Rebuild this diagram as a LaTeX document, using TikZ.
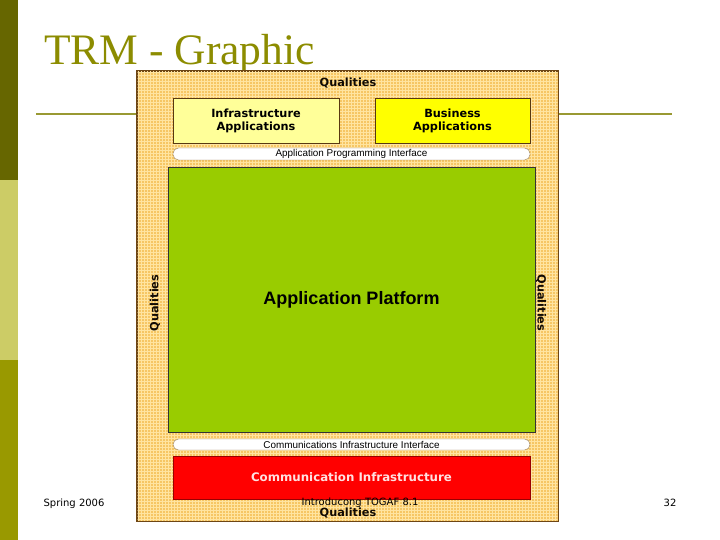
\documentclass[tikz,border=0pt]{standalone}
\usepackage{fontspec}
\setmainfont{Liberation Serif}
\newfontfamily\arialfont{Liberation Sans}
\newfontfamily\verdfont{DejaVu Sans}
\usepackage{tikz}
\usetikzlibrary{positioning, calc}
\definecolor{TRMDark}{RGB}{102,102,0}
\definecolor{TRMLight}{RGB}{204,204,102}
\definecolor{TRMOlive}{RGB}{153,153,0}
\definecolor{TRMTitle}{RGB}{140,140,0}
\definecolor{TRMRule}{RGB}{153,153,51}
\definecolor{TRMTan}{RGB}{246,198,100}
\definecolor{TRMTanLt}{RGB}{255,228,160}
\definecolor{TRMBrown}{RGB}{110,70,20}
\definecolor{TRMPale}{RGB}{255,255,153}
\definecolor{TRMYellow}{RGB}{255,255,0}
\definecolor{TRMGreen}{RGB}{153,204,0}
\definecolor{TRMRed}{RGB}{255,0,0}
\definecolor{TRMPink}{RGB}{255,225,225}

\begin{document}
\begin{tikzpicture}[x=1pt, y=-1pt,
      box/.style={rectangle, draw=TRMBrown!80!black, line width=0.8pt,
                  align=center, font=\verdfont\bfseries\fontsize{11.3}{13}\selectfont},
      pill/.style={rectangle, rounded corners=5.5pt, draw=TRMBrown!70, fill=white,
                   inner sep=0pt, font=\arialfont\fontsize{9.9}{10}\selectfont},
      qual/.style={font=\verdfont\bfseries\fontsize{11.3}{12}\selectfont, text=black!85!TRMBrown},
      foot/.style={font=\verdfont\fontsize{10}{11}\selectfont, anchor=base}
    ]
    \useasboundingbox (0,0) rectangle (720,540);

    % Side bar
    \fill[TRMDark]  (0,0)   rectangle (18,180);
    \fill[TRMLight] (0,180) rectangle (18,360);
    \fill[TRMOlive] (0,360) rectangle (18,540);

    % Title and rule
    \node[anchor=base west, inner sep=0pt, text=TRMTitle,
          font=\fontsize{43.5}{48}\selectfont] (title) at (44,65) {TRM - Graphic};
    \coordinate (ruleL) at (36,114);
    \coordinate (ruleR) at (672,114);
    \draw[TRMRule, line width=2.6pt] (ruleL) -- (ruleR);

    % Textured frame
    \node[rectangle, fill=TRMTan, draw=TRMBrown, line width=0.9pt,
          minimum width=421pt, minimum height=450pt, inner sep=0pt]
          (frame) at (347.5,296) {};
    \begin{scope}
      \clip (137.5,71.5) rectangle (557.5,520.5);
      \draw[TRMTanLt, line width=0.6pt, step=3pt] (137,71) grid (558,521);
    \end{scope}
    \draw[TRMBrown, line width=0.9pt] (frame.north west) rectangle (frame.south east);

    % Qualities labels
    \node[qual] (qtop) at (348,83) {Qualities};
    \node[qual] (qbot) at (348,513) {Qualities};
    \node[qual, rotate=90]  (qleft)  at (155,303) {Qualities};
    \node[qual, rotate=-90] (qright) at (541,303) {Qualities};

    % Applications
    \node[box, fill=TRMPale, minimum width=166pt, minimum height=45pt]
          (infra) at (256,120.5) {Infrastructure\\Applications};
    \node[box, fill=TRMYellow, minimum width=155pt, minimum height=45pt]
          (busi) at (452.5,120.5) {Business\\Applications};

    % Interfaces
    \node[pill, minimum width=357pt, minimum height=12pt]
          (api) at (351.5,154) {Application Programming Interface};
    \node[pill, minimum width=357pt, minimum height=11pt]
          (cii) at (351.5,444.5) {Communications Infrastructure Interface};

    % Application Platform
    \node[rectangle, fill=TRMGreen, draw=black!80, line width=0.8pt,
          minimum width=367pt, minimum height=265pt,
          font=\arialfont\bfseries\fontsize{18}{20}\selectfont]
          (platform) at (351.5,299.5) {Application Platform};

    % Communication Infrastructure
    \node[box, fill=TRMRed, text=TRMPink, draw=TRMRed!60!black,
          minimum width=357pt, minimum height=43pt,
          font=\verdfont\bfseries\fontsize{11.8}{13}\selectfont]
          (comm) at (351.5,477.5) {Communication Infrastructure};

    % Footer
    \node[foot] (date) at (74,506) {Spring 2006};
    \node[foot] (course) at (360,505) {Introducong TOGAF 8.1};
    \node[foot] (page) at (670,506) {32};
  \end{tikzpicture}
\end{document}
